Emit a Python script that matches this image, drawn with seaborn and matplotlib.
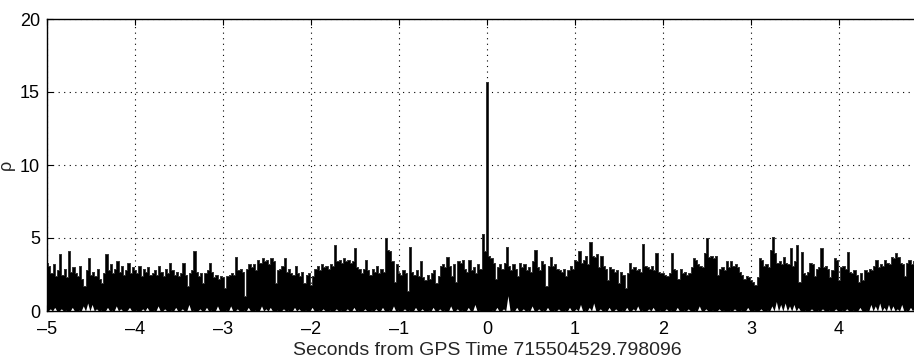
import numpy as np
import pandas as pd
import matplotlib
matplotlib.use("Agg")
import matplotlib.pyplot as plt
import seaborn as sns

# ---- data (dt = 0.025 s, t from -5 s) ----
rho_peak = [
    # -5 .. -4
    3.3,3.1,2.6,3.2,2.4,2.8,3.9,2.5,2.9,2.3,4.1,2.7,3.0,2.6,2.4,3.1,2.2,1.7,2.8,3.6,
    2.5,2.7,2.4,2.9,2.2,1.9,2.6,3.9,2.8,3.2,2.6,2.9,3.4,2.7,3.1,2.5,2.8,3.3,2.6,3.0,
    # -4 .. -3
    2.8,2.6,3.1,2.4,2.9,2.7,3.0,2.5,2.6,2.8,2.5,3.1,2.7,2.4,2.9,2.6,3.3,2.8,2.5,2.7,
    2.4,2.6,3.3,2.5,1.7,2.6,2.8,4.1,2.7,2.4,2.6,1.9,2.6,2.8,3.3,2.7,2.3,2.5,2.2,2.4,
    # -3 .. -2
    2.3,1.6,2.4,2.5,2.6,2.5,3.7,2.8,2.9,2.7,1.0,2.9,3.2,3.0,3.2,2.8,3.5,3.3,3.6,3.4,
    3.5,3.2,3.6,3.4,1.9,2.8,2.9,3.1,3.6,2.7,2.9,2.6,2.5,3.1,2.6,2.4,2.7,1.9,2.5,2.6,
    # -2 .. -1
    1.8,2.4,2.9,3.1,2.8,3.2,3.0,3.1,2.9,3.2,3.1,4.5,3.4,3.5,3.3,3.6,3.4,3.5,3.3,3.4,
    4.3,3.0,2.9,2.6,2.9,3.5,2.8,2.5,2.9,2.7,3.1,2.6,2.9,2.7,5.0,4.2,4.1,3.4,2.0,3.2,
    # -1 .. 0
    2.6,2.5,2.8,2.6,1.4,4.4,2.7,2.5,2.8,2.4,3.4,2.3,2.1,2.5,2.2,2.6,2.8,1.9,2.4,3.1,
    3.2,3.0,3.7,3.1,2.4,3.2,2.0,3.4,3.3,3.5,2.9,2.7,3.5,2.8,3.0,2.6,3.2,2.9,5.3,4.1,
    # 0 .. 1
    15.7,3.8,3.6,3.3,2.2,3.0,3.2,2.9,3.3,4.4,3.1,2.8,3.2,2.9,2.4,3.3,3.0,3.2,2.8,3.0,
    2.7,3.4,4.2,3.0,2.8,3.4,3.2,1.7,3.1,3.7,3.1,3.2,2.9,2.8,2.7,2.9,2.4,2.8,3.1,2.9,
    # 1 .. 2
    3.5,3.4,4.1,3.3,3.5,3.8,3.2,4.75,3.8,3.7,3.9,3.0,3.8,3.1,2.9,2.1,3.0,2.9,2.7,2.8,
    1.9,2.7,2.5,1.55,2.6,3.3,2.9,3.0,2.8,2.9,2.7,4.6,3.1,3.0,2.9,3.1,2.8,4.0,2.7,2.6,
    # 2 .. 3
    2.6,2.5,2.4,2.6,3.95,2.9,2.8,2.2,2.9,2.6,2.7,2.5,2.6,3.0,3.6,3.5,3.2,3.1,3.0,4.0,
    5.0,3.7,3.8,3.6,3.8,2.5,2.9,3.0,2.8,3.4,3.0,3.4,3.1,3.2,3.0,2.7,2.5,2.2,2.4,2.3,
    # 3 .. 4
    2.1,2.0,1.8,2.3,3.6,3.5,3.1,3.2,3.0,4.2,5.1,4.0,3.3,3.4,3.2,3.7,3.3,3.2,4.3,3.1,
    3.4,4.5,2.0,4.05,2.6,2.5,2.7,3.3,3.2,2.4,2.9,3.0,4.3,3.0,3.1,2.9,2.3,2.8,3.6,3.5,
    # 4 .. 5
    2.1,3.0,3.1,2.9,4.05,2.7,2.6,2.8,2.5,2.0,2.6,2.1,2.8,2.7,2.9,2.8,3.1,3.5,3.0,3.2,
    3.1,3.5,3.3,3.2,3.7,3.6,3.95,3.7,3.3,3.2,2.4,3.3,3.5,3.2,3.4,3.1,3.3,3.0,3.2,3.1,
]

rho_trough = [
    0.1,0.3,0.1,0.4,0.1,0.1,0.3,0.1,0.2,0.1,0.1,0.4,0.1,0.1,0.2,0.1,0.5,0.1,0.7,0.1,
    0.6,0.1,0.3,0.1,0.2,0.1,0.1,0.4,0.1,0.2,0.1,0.5,0.1,0.3,0.1,0.1,0.2,0.4,0.1,0.1,
    0.2,0.1,0.1,0.3,0.1,0.4,0.1,0.1,0.2,0.1,0.5,0.1,0.1,0.3,0.1,0.1,0.2,0.1,0.4,0.1,
    0.1,0.3,0.1,0.1,0.6,0.1,0.2,0.1,0.1,0.3,0.1,0.1,0.4,0.1,0.2,0.1,0.1,0.5,0.1,0.1,
    0.1,0.2,0.1,0.5,0.1,0.1,0.3,0.1,0.1,0.2,0.1,0.4,0.1,0.1,0.2,0.1,0.1,0.5,0.1,0.3,
    0.1,0.4,0.1,0.1,0.2,0.1,0.1,0.3,0.1,0.2,0.1,0.1,0.4,0.1,0.3,0.1,0.1,0.2,0.1,0.1,
    0.4,0.1,0.1,0.2,0.1,0.3,0.1,0.1,0.2,0.1,0.1,0.3,0.1,0.2,0.1,0.1,0.3,0.1,0.1,0.4,
    0.1,0.2,0.1,0.1,0.3,0.1,0.1,0.2,0.1,0.3,0.1,0.1,0.4,0.1,0.1,0.2,0.1,0.5,0.1,0.2,
    0.1,0.1,0.3,0.1,0.2,0.1,0.1,0.4,0.1,0.1,0.3,0.1,0.1,0.2,0.1,0.4,0.1,0.1,0.3,0.1,
    0.2,0.1,0.1,0.5,0.1,0.1,0.3,0.1,0.2,0.1,0.1,0.4,0.1,0.1,0.6,0.1,0.2,0.1,0.1,0.1,
    0.1,0.1,0.2,0.1,0.4,0.1,0.1,0.3,0.1,1.2,0.1,0.2,0.1,0.4,0.1,0.1,0.3,0.1,0.2,0.1,
    0.5,0.1,0.1,0.3,0.1,0.2,0.1,0.4,0.1,0.1,0.2,0.1,0.3,0.1,0.1,0.2,0.1,0.4,0.1,0.1,
    0.3,0.1,0.6,0.1,0.2,0.1,0.4,0.1,0.7,0.1,0.1,0.3,0.1,0.2,0.1,0.4,0.1,0.1,0.3,0.1,
    0.1,0.2,0.1,0.4,0.1,0.1,0.3,0.1,0.5,0.1,0.2,0.1,0.1,0.3,0.1,0.4,0.1,0.1,0.2,0.1,
    0.1,0.3,0.1,0.2,0.1,0.1,0.4,0.1,0.1,0.2,0.1,0.3,0.1,0.1,0.2,0.1,0.5,0.1,0.1,0.3,
    0.1,0.1,0.2,0.1,0.1,0.3,0.1,0.2,0.1,0.1,0.2,0.1,0.3,0.1,0.1,0.2,0.1,0.1,0.4,0.1,
    0.1,0.2,0.1,0.1,0.3,0.1,0.1,0.2,0.1,0.5,0.1,0.8,0.1,0.6,0.1,0.7,0.1,0.5,0.1,0.6,
    0.1,0.4,0.1,0.1,0.2,0.1,0.1,0.3,0.1,0.1,0.2,0.1,0.3,0.1,0.1,0.2,0.1,0.1,0.3,0.1,
    0.1,0.2,0.1,0.3,0.1,0.1,0.2,0.1,0.1,0.4,0.1,0.1,0.2,0.1,0.6,0.1,0.5,0.1,0.7,0.1,
    0.4,0.1,0.6,0.1,0.5,0.1,0.3,0.1,0.6,0.1,0.2,0.1,0.4,0.1,0.5,0.1,0.3,0.1,0.2,0.1,
]

x_ticks = [-5, -4, -3, -2, -1, 0, 1, 2, 3, 4]
y_ticks = [0, 5, 10, 15, 20]
x_label = "Seconds from GPS Time 715504529.798096"
y_label = "ρ"

# ---- sampled series ----
dt = 0.025
t_peak = -5 + dt * np.arange(len(rho_peak))
t_trough = t_peak + dt / 2
peak = np.asarray(rho_peak)
trough = np.asarray(rho_trough)
df = pd.DataFrame({"t": t_peak, "rho": peak})

sns.set_theme(style="white")
plt.rcParams["font.family"] = ["Liberation Sans", "DejaVu Sans"]

fig = plt.figure(figsize=(9.14, 3.62), dpi=100)
ax = fig.add_axes([47 / 914, 51 / 362, 880 / 914, 292 / 362])

# dense trace: black body under the peaks, white gaps where troughs stay high
ax.fill_between(t_peak, 0, peak, color="black", linewidth=0, step="mid", zorder=2)
sns.lineplot(data=df, x="t", y="rho", ax=ax, color="#333333", linewidth=0.7,
             estimator=None, sort=False, drawstyle="steps-mid", zorder=3)
ax.fill_between(t_trough, 0, np.clip(trough - 0.15, 0, None), color="white",
                linewidth=0, zorder=4)

ax.set_xlim(-5, 5)
ax.set_ylim(0, 20)
ax.set_xticks(x_ticks)
ax.set_yticks(y_ticks)
ax.set_xticklabels([str(v).replace("-", "\u2013") for v in x_ticks])
ax.grid(True, color="black", linestyle=(0, (1, 4)), linewidth=0.8, zorder=1)
ax.set_axisbelow(True)
ax.tick_params(direction="in", length=4, width=0.8, colors="black",
               labelsize=13, top=True, right=True, bottom=True, left=True)
ax.tick_params(axis="x", pad=7)
ax.tick_params(axis="y", pad=5)
for s in ax.spines.values():
    s.set_color("black")
    s.set_linewidth(1.0)
    s.set_zorder(5)
ax.set_xlabel(x_label, fontsize=14, labelpad=3)
ax.set_ylabel(y_label, fontsize=13)
ax.yaxis.set_label_coords(-0.036, 0.5)

fig.savefig("out.png", dpi=100)
